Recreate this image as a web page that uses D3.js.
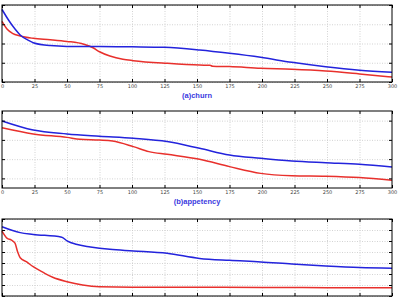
<!DOCTYPE html>
<html>
<head>
<meta charset="utf-8">
<script src="https://cdn.jsdelivr.net/npm/d3@7"></script>
<style>
  body { margin: 0; background: #fff; }
  svg { display: block; }
  .grid line { stroke: #c8c8c8; stroke-dasharray: 1,1.5; stroke-width: 0.8; }
  .grid .domain { display: none; }
  .axis text { font-family: "DejaVu Sans", sans-serif; font-size: 5px; fill: #444; }
  .axis line { stroke: #000; }
</style>
</head>
<body>
<div class="plot"></div>
<script>
// x positions shared by the panels
var xTicks = [0, 25, 50, 75, 100, 125, 150, 175, 200, 225, 250, 275, 300];

// (a) churn
var churnBlueX = [0, 5, 10, 14, 20, 24, 37, 50, 75, 100, 125, 152, 175, 199, 223, 249, 275, 300];
var churnBlue  = [0.477, 0.422, 0.375, 0.344, 0.318, 0.304, 0.289, 0.285, 0.285, 0.283, 0.280, 0.266, 0.249, 0.228, 0.202, 0.179, 0.161, 0.150];
var churnRedX  = [0, 4, 8, 14, 24, 37, 50, 63, 70, 75, 83, 93, 101, 127, 152, 160, 162, 175, 199, 223, 249, 275, 300];
var churnRed   = [0.415, 0.374, 0.353, 0.339, 0.327, 0.320, 0.311, 0.296, 0.278, 0.257, 0.235, 0.218, 0.211, 0.197, 0.188, 0.187, 0.182, 0.180, 0.171, 0.166, 0.157, 0.142, 0.126];

// (b) appetency
var appBlueX = [0, 24, 50, 75, 101, 127, 152, 175, 199, 223, 249, 275, 300];
var appBlue  = [0.848, 0.801, 0.781, 0.769, 0.758, 0.741, 0.706, 0.671, 0.654, 0.640, 0.631, 0.623, 0.609];
var appRedX  = [0, 24, 50, 60, 75, 85, 101, 113, 127, 152, 175, 199, 223, 249, 275, 300];
var appRed   = [0.813, 0.781, 0.763, 0.753, 0.749, 0.744, 0.715, 0.689, 0.675, 0.649, 0.611, 0.576, 0.564, 0.561, 0.554, 0.540];

// (c) third panel
var upBlueX = [0, 14, 24, 46, 50, 57, 68, 83, 101, 127, 152, 175, 199, 223, 249, 275, 300];
var upBlue  = [0.315, 0.288, 0.280, 0.267, 0.251, 0.235, 0.223, 0.212, 0.205, 0.194, 0.171, 0.162, 0.155, 0.145, 0.136, 0.129, 0.126];
var upRedX  = [0, 4, 7, 10, 12, 14, 19, 24, 32, 39, 50, 62, 75, 100, 150, 200, 250, 300];
var upRed   = [0.295, 0.262, 0.255, 0.240, 0.201, 0.174, 0.155, 0.133, 0.106, 0.085, 0.065, 0.050, 0.042, 0.040, 0.040, 0.039, 0.038, 0.038];

var panels = [
  {top: 5,   domain: [0.1, 0.5], yTicks: [0.1, 0.2, 0.3, 0.4, 0.5], title: "(a)churn",
   blueX: churnBlueX, blue: churnBlue, redX: churnRedX, red: churnRed, labels: true},
  {top: 111, domain: [0.5, 0.9], yTicks: [0.55, 0.65, 0.75, 0.85], title: "(b)appetency",
   blueX: appBlueX, blue: appBlue, redX: appRedX, red: appRed, labels: true},
  {top: 219, domain: [0, 0.35], yTicks: [0, 0.05, 0.1, 0.15, 0.2, 0.25, 0.3, 0.35], title: null,
   blueX: upBlueX, blue: upBlue, redX: upRedX, red: upRed, labels: false}
];

var W = 400, H = 299,
    left = 2, right = 392, ph = 77;

var svg = d3.select(".plot").append("svg")
    .attr("width", W)
    .attr("height", H);

var x = d3.scaleLinear().domain([0, 300]).range([left, right]);

panels.forEach(function(p) {
  var y = d3.scaleLinear().domain(p.domain).range([p.top + ph, p.top]);
  var g = svg.append("g");

  // dotted grid
  g.append("g").attr("class", "grid")
    .attr("transform", "translate(0," + (p.top + ph) + ")")
    .call(d3.axisBottom(x).tickValues(xTicks.slice(1, -1)).tickSize(-ph).tickFormat(""));
  g.append("g").attr("class", "grid")
    .attr("transform", "translate(" + left + ",0)")
    .call(d3.axisLeft(y).tickValues(p.yTicks).tickSize(-(right - left)).tickFormat(""));

  var line = d3.line()
      .curve(d3.curveMonotoneX)
      .x(function(d) { return x(d[0]); })
      .y(function(d) { return y(d[1]); });

  g.append("path")
    .attr("d", line(p.redX.map(function(v, i) { return [v, p.red[i]]; })))
    .attr("fill", "none").attr("stroke", "#e8302c").attr("stroke-width", 1.5);
  g.append("path")
    .attr("d", line(p.blueX.map(function(v, i) { return [v, p.blue[i]]; })))
    .attr("fill", "none").attr("stroke", "#2323dc").attr("stroke-width", 1.5);

  // inward ticks on all four sides
  var bottom = g.append("g").attr("class", "axis")
    .attr("transform", "translate(0," + (p.top + ph) + ")")
    .call(d3.axisBottom(x).tickValues(xTicks).tickSize(-3).tickPadding(2)
      .tickFormat(p.labels ? d3.format("d") : ""));
  bottom.select(".domain").remove();
  g.append("g").attr("class", "axis")
    .attr("transform", "translate(0," + p.top + ")")
    .call(d3.axisTop(x).tickValues(xTicks).tickSize(-3).tickFormat(""))
    .select(".domain").remove();
  g.append("g").attr("class", "axis")
    .attr("transform", "translate(" + left + ",0)")
    .call(d3.axisLeft(y).tickValues(p.yTicks).tickSize(-3).tickFormat(""))
    .select(".domain").remove();
  g.append("g").attr("class", "axis")
    .attr("transform", "translate(" + right + ",0)")
    .call(d3.axisRight(y).tickValues(p.yTicks).tickSize(-3).tickFormat(""))
    .select(".domain").remove();

  // frame
  g.append("rect")
    .attr("x", left).attr("y", p.top)
    .attr("width", right - left).attr("height", ph)
    .attr("fill", "none").attr("stroke", "#000").attr("stroke-width", 1);

  if (p.title) {
    g.append("text")
      .attr("x", (left + right) / 2)
      .attr("y", p.top + ph + 16)
      .attr("text-anchor", "middle")
      .attr("font-family", "Liberation Sans, Arial, sans-serif")
      .attr("font-size", 7.5)
      .attr("font-weight", "bold")
      .attr("fill", "#3a3ae0")
      .text(p.title);
  }
});
</script>
</body>
</html>
